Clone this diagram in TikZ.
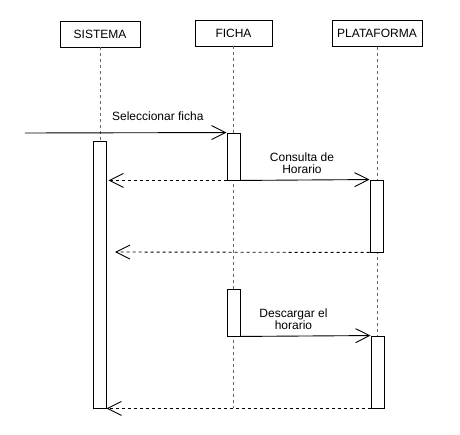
\documentclass[tikz,border=0pt]{standalone}
\usepackage{fontspec}
\setmainfont{Liberation Sans}
\usetikzlibrary{arrows.meta}

\begin{document}
\begin{tikzpicture}[x=1pt, y=-1pt, line width=0.9pt,
    font=\fontsize{12}{12}\selectfont,
    head/.style={draw, fill=white, minimum height=26pt, inner sep=0pt},
    act/.style={draw, fill=white, minimum width=13pt, inner sep=0pt},
    life/.style={dash pattern=on 3pt off 3pt, gray!80!black},
    msg/.style={-{Straight Barb[length=14pt, width=14pt]}},
    ret/.style={msg, dash pattern=on 3pt off 3pt}]
        \useasboundingbox (0,0) rectangle (460,435);

        \node[head, minimum width=80pt] (sistema) at (100,34) {SISTEMA};
        \node[head, minimum width=77pt] (ficha) at (233.5,33) {FICHA};
        \node[head, minimum width=90pt] (plataforma) at (377,33.5) {PLATAFORMA};

        \draw[life] (sistema.south) -- (100,141);
        \draw[life] (ficha.south) -- (233.5,408);
        \draw[life] (plataforma.south) -- (377,336);

        \node[act, minimum height=267pt] (sa) at (99.5,274.5) {};
        \node[act, minimum height=47pt] (fa1) at (233.5,156.5) {};
        \node[act, minimum height=47pt] (fa2) at (233.5,312.5) {};
        \node[act, minimum height=72pt] (pa1) at (376.5,216) {};
        \node[act, minimum height=72pt] (pa2) at (377.5,372) {};

        \coordinate (start) at (25,133);
        \coordinate (back) at (115,252);

        \draw[msg] (start) -- (fa1.north west)
            node[midway, above=8pt, xshift=32pt] {Seleccionar ficha};
        \draw[ret, shorten >=2pt] (fa1.south west) -- (sa.east |- fa1.south);
        \draw[msg] (fa1.south east) -- (pa1.north west)
            node[midway, above=3pt, align=center, xshift=-3pt] {Consulta de\\Horario};
        \draw[ret] (pa1.south west) -- (back);
        \draw[msg] (fa2.south east) -- (pa2.north west)
            node[midway, above=3pt, align=center, xshift=-12pt] {Descargar el\\horario};
        \draw[ret] (pa2.south west) -- (sa.south east);
    \end{tikzpicture}
\end{document}
